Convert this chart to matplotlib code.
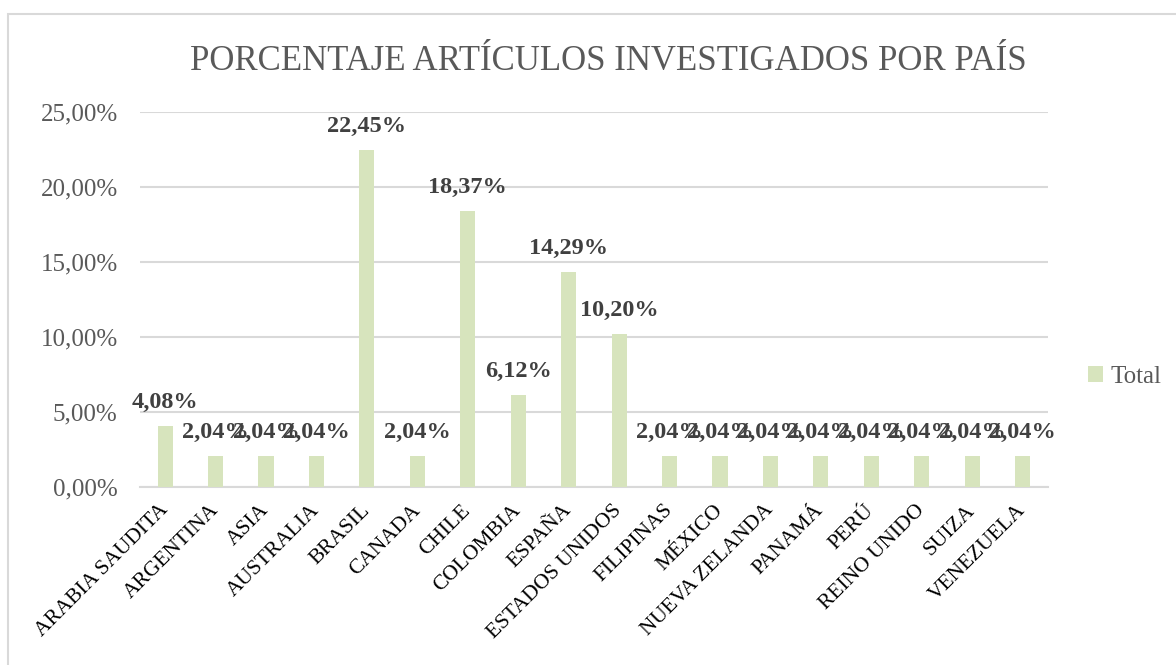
import numpy as np
import matplotlib.pyplot as plt
from matplotlib.patches import Rectangle

# data
paises = [
    "ARABIA SAUDITA",
    "ARGENTINA",
    "ASIA",
    "AUSTRALIA",
    "BRASIL",
    "CANADA",
    "CHILE",
    "COLOMBIA",
    "ESPAÑA",
    "ESTADOS UNIDOS",
    "FILIPINAS",
    "MÉXICO",
    "NUEVA ZELANDA",
    "PANAMÁ",
    "PERÚ",
    "REINO UNIDO",
    "SUIZA",
    "VENEZUELA",
]
total = [4.08, 2.04, 2.04, 2.04, 22.45, 2.04, 18.37, 6.12, 14.29, 10.20,
         2.04, 2.04, 2.04, 2.04, 2.04, 2.04, 2.04, 2.04]
yticks = [0, 5, 10, 15, 20, 25]

plt.rcParams["font.family"] = ["Liberation Serif", "DejaVu Serif"]

fig = plt.figure(figsize=(11.76, 6.65), dpi=100)
ax = fig.add_axes([0.119, 0.268, 0.772, 0.564])

# outer chart frame
fig.patches.append(Rectangle((8 / 1176, -0.05), 1.1, 1 - 14 / 665 + 0.05,
                             transform=fig.transFigure, fill=False,
                             edgecolor="#d9d9d9", linewidth=1.5))

x = np.arange(len(paises))
bars = ax.bar(x, total, width=0.3, color="#d7e4bd", label="Total", zorder=3)

for xi, v in zip(x, total):
    ax.annotate(f"{v:.2f}%".replace(".", ","), (xi, v), xytext=(0, 17),
                textcoords="offset points", ha="center", va="center",
                fontsize=17.5, fontweight="bold", color="#404040", zorder=4)

ax.set_xlim(-0.5, len(paises) - 0.5)
ax.set_ylim(0, 25)
ax.set_yticks(yticks)
ax.set_yticklabels([f"{t:.2f}%".replace(".", ",") for t in yticks])
ax.tick_params(axis="y", length=0, pad=16, labelsize=18, labelcolor="#595959")
ax.set_xticks(x)
ax.set_xticklabels(paises, rotation=45, ha="right", va="center",
                   rotation_mode="anchor", fontsize=15.5, color="black")
ax.tick_params(axis="x", length=0, pad=15)
ax.grid(axis="y", color="#d9d9d9", linewidth=1.5, zorder=0)
for s in ["top", "right", "left"]:
    ax.spines[s].set_visible(False)
ax.spines["bottom"].set_color("#d9d9d9")
ax.spines["bottom"].set_linewidth(1.5)

fig.text(0.517, 0.907, "PORCENTAJE ARTÍCULOS INVESTIGADOS POR PAÍS",
         ha="center", va="center", fontsize=25, color="#595959")

fig.legend(handles=[bars], labels=["Total"], loc="center left",
           bbox_to_anchor=(0.906, 0.433), frameon=False, fontsize=18,
           handlelength=0.6, handleheight=0.6, handletextpad=0.3,
           labelcolor="#595959")

fig.savefig("out.png", dpi=100)
